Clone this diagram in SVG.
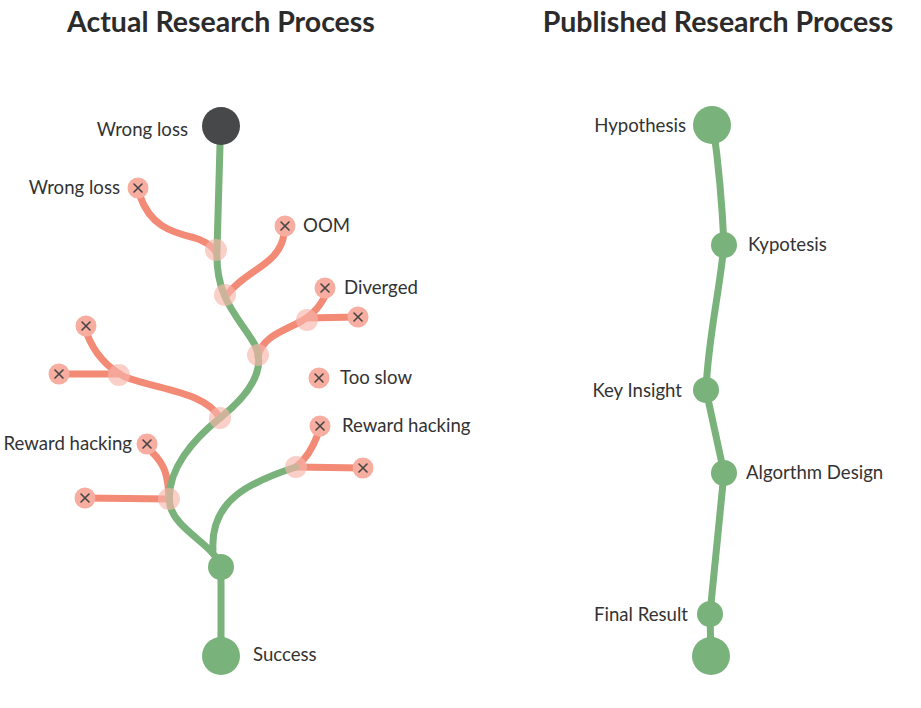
<svg xmlns="http://www.w3.org/2000/svg" width="921" height="708" viewBox="0 0 921 708">
<style>
.t{font-family:Lato,"Open Sans","Liberation Sans",sans-serif;font-size:18.6px;fill:#333}
.h{font-family:Lato,"Open Sans","Liberation Sans",sans-serif;font-size:28.5px;font-weight:bold;fill:#2b2b2b}
.g{fill:none;stroke:#79b27a;stroke-width:7;stroke-linecap:round}
.r{fill:none;stroke:#f28a76;stroke-width:7;stroke-linecap:round}
.gn{fill:#79b27a}
.jn{fill:#f8b6aa;opacity:0.65}
.xn{fill:#f7aea0}
.xm{stroke:#444;stroke-width:1.6;stroke-linecap:round}
</style>
<defs>
<g id="xmark"><circle class="xn" r="10.5"/><path class="xm" d="M-4,-4L4,4M4,-4L-4,4"/></g>
</defs>
<rect width="921" height="708" fill="#fff"/>
<text class="h" x="221" y="32" text-anchor="middle">Actual Research Process</text>
<text class="h" x="718" y="32" text-anchor="middle">Published Research Process</text>

<g id="connectors">
<path class="r" d="M140,196 C150,225 170,232 195,238 C210,243 215,250 216,252"/>
<path class="r" d="M284,234 C280,265 245,270 226,296"/>
<path class="r" d="M325,296 C318,310 310,316 300,322 C280,332 262,338 258,356"/>
<path class="r" d="M307,318 L358,317"/>
<path class="r" d="M87,334 C95,355 108,368 125,377 C160,390 205,392 220,418"/>
<path class="r" d="M60,374 L119,374"/>
<path class="r" d="M152,452 C165,465 168,475 169,499"/>
<path class="r" d="M85,498 L169,499"/>
<path class="r" d="M318,434 C312,450 305,460 296,467"/>
<path class="r" d="M296,467 L362,468"/>
<path class="g" d="M220,145 L217,250 C215,300 240,318 255,345 C268,372 245,398 220,418 C195,438 165,470 170,505 C175,530 215,545 221,567"/>
<path class="g" d="M296,467 C250,482 210,500 213,550"/>
<path class="g" d="M221,567 L221,656"/>
<path class="g" d="M713,125 C718,160 722,200 724,245 C719,295 708,340 706,390 L724,473 L710,614 L711,656"/>
</g>

<g id="n-top"><circle cx="221" cy="126" r="19" fill="#474849"/><text class="t" x="188" y="136" text-anchor="end">Wrong loss</text></g>
<g id="j1"><circle class="jn" cx="216" cy="250" r="11"/></g>
<g id="j2"><circle class="jn" cx="225" cy="295" r="11"/></g>
<g id="j3"><circle class="jn" cx="258" cy="355" r="11"/></g>
<g id="j4"><circle class="jn" cx="307" cy="320" r="11"/></g>
<g id="j5"><circle class="jn" cx="119" cy="375" r="11"/></g>
<g id="j6"><circle class="jn" cx="220" cy="418" r="11"/></g>
<g id="j7"><circle class="jn" cx="169" cy="499" r="11"/></g>
<g id="j8"><circle class="jn" cx="296" cy="467" r="11"/></g>

<g id="x-wrongloss"><use href="#xmark" x="138" y="188"/><text class="t" x="120" y="194" text-anchor="end">Wrong loss</text></g>
<g id="x-oom"><use href="#xmark" x="285" y="226"/><text class="t" x="303" y="232">OOM</text></g>
<g id="x-diverged"><use href="#xmark" x="325" y="288"/><text class="t" x="344" y="294">Diverged</text></g>
<g id="x-div2"><use href="#xmark" x="358" y="317"/></g>
<g id="x-l1"><use href="#xmark" x="86" y="326"/></g>
<g id="x-l2"><use href="#xmark" x="59" y="374"/></g>
<g id="x-tooslow"><use href="#xmark" x="319" y="378"/><text class="t" x="340" y="384">Too slow</text></g>
<g id="x-rh-left"><use href="#xmark" x="147" y="444"/><text class="t" x="132" y="450" text-anchor="end">Reward hacking</text></g>
<g id="x-rh-left2"><use href="#xmark" x="85" y="498"/></g>
<g id="x-rh-right"><use href="#xmark" x="320" y="426"/><text class="t" x="342" y="432">Reward hacking</text></g>
<g id="x-rh-right2"><use href="#xmark" x="363" y="468"/></g>

<g id="n-mid"><circle class="gn" cx="221" cy="567" r="13"/></g>
<g id="n-success"><circle class="gn" cx="221" cy="656" r="19"/><text class="t" x="253" y="661">Success</text></g>

<g id="p-hyp"><circle class="gn" cx="712" cy="125" r="19"/><text class="t" x="686" y="132" text-anchor="end">Hypothesis</text></g>
<g id="p-kyp"><circle class="gn" cx="724" cy="245" r="13"/><text class="t" x="748" y="251">Kypotesis</text></g>
<g id="p-key"><circle class="gn" cx="706" cy="390" r="13"/><text class="t" x="682" y="397" text-anchor="end">Key Insight</text></g>
<g id="p-alg"><circle class="gn" cx="724" cy="473" r="13"/><text class="t" x="746" y="479">Algorthm Design</text></g>
<g id="p-final"><circle class="gn" cx="710" cy="614" r="13"/><text class="t" x="688" y="621" text-anchor="end">Final Result</text></g>
<g id="p-end"><circle class="gn" cx="711" cy="656" r="19"/></g>
</svg>
